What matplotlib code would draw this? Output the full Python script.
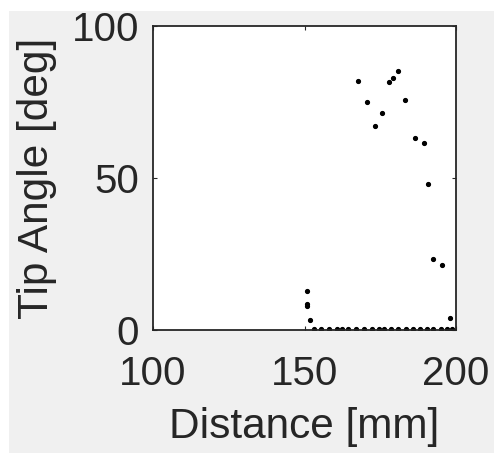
import matplotlib.pyplot as plt
from matplotlib.patches import Rectangle

# ===============================
# data
# ===============================
dist_up = [167.5, 170.6, 173.2, 175.7, 177.8, 179.3, 180.8, 183.2, 186.5,
           189.3, 190.7, 192.4, 195.3, 198.0]
angle_up = [81.9, 75.1, 67.2, 71.5, 81.7, 83.0, 85.1, 75.7, 63.2,
            61.5, 48.1, 23.5, 21.4, 4.1]

dist_start = [150.7, 150.7, 150.8, 151.7]
angle_start = [12.9, 8.5, 7.9, 3.4]

dist_flat = [153.1, 155.4, 158.0, 160.7, 162.4, 164.5, 167.0, 169.8, 172.4,
             174.7, 176.3, 178.4, 180.8, 183.4, 185.9, 188.1, 190.3, 192.5,
             195.0, 196.9, 198.8]
angle_flat = [0.4] * len(dist_flat)

xticks = [100, 150, 200]
yticks = [0, 50, 100]

# ===============================
# figure
# ===============================
plt.rcParams["font.family"] = ["Liberation Sans", "DejaVu Sans"]
W, H = 494, 453
fig = plt.figure(figsize=(W / 100, H / 100), dpi=100)
fig.patch.set_facecolor("white")
fig.patches.append(Rectangle((9 / W, 0), 1 - 9 / W, 1 - 11 / H,
                             transform=fig.transFigure, facecolor="#f0f0f0",
                             edgecolor="none", zorder=-10))

ax = fig.add_axes([153 / W, (H - 330) / H, 303 / W, 304 / H])
ax.set_facecolor("white")

for xs, ys in [(dist_start, angle_start), (dist_flat, angle_flat), (dist_up, angle_up)]:
    ax.plot(xs, ys, ".", color="black", markersize=5.5)

ax.set_xlim(100, 200)
ax.set_ylim(0, 100)
ax.set_xticks(xticks)
ax.set_yticks(yticks)

for s in ax.spines.values():
    s.set_color("#262626")
    s.set_linewidth(1.3)

ax.tick_params(direction="in", length=3, width=0.8, color="#262626",
               top=True, right=True, labelsize=29, labelcolor="#262626")
ax.tick_params(axis="x", pad=18)
ax.tick_params(axis="y", pad=10)

ax.set_xlabel("Distance [mm]", fontsize=30.5, color="#262626")
ax.set_ylabel("Tip Angle [deg]", fontsize=30.5, color="#262626")
ax.xaxis.label.set_va("center")
ax.yaxis.label.set_va("center")
ax.xaxis.set_label_coords(0.5, (330 - 427) / 304)
ax.yaxis.set_label_coords((37 - 153) / 303, 0.5)

fig.savefig("out.png", dpi=100)
